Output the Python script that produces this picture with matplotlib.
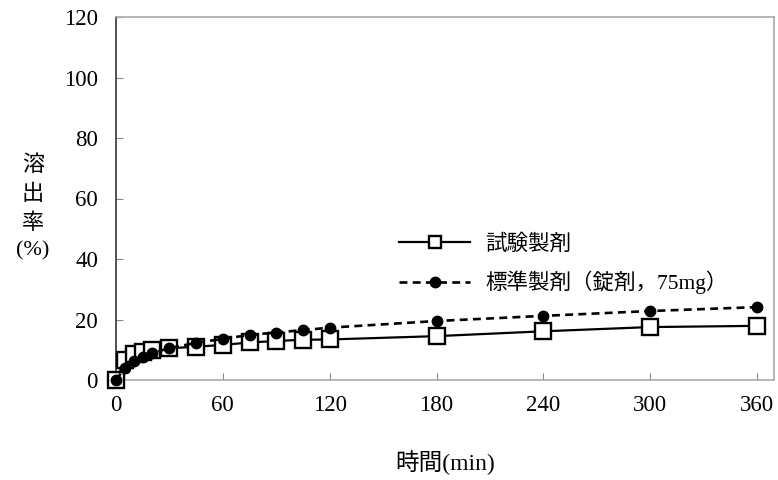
import matplotlib
matplotlib.use("Agg")
import matplotlib.pyplot as plt

plt.rcParams['font.family'] = ['Liberation Serif', 'Noto Sans CJK JP', 'DejaVu Sans']

time_test = [0, 5, 10, 15, 20, 30, 45, 60, 75, 90, 105, 120, 180, 240, 300, 360]
test_vals = [0, 6.5, 8.5, 9.2, 9.8, 10.5, 11.0, 11.6, 12.4, 12.9, 13.3, 13.4, 14.5, 16.1, 17.5, 17.9]
time_ref = [0, 5, 10, 15, 20, 30, 45, 60, 75, 90, 105, 120, 180, 240, 300, 360]
ref_vals = [0, 4.0, 6.3, 7.6, 8.9, 10.5, 12.3, 13.6, 14.9, 15.7, 16.5, 17.3, 19.5, 21.2, 22.8, 24.1]
label_test = '試験製剤'
label_ref = '標準製剤（錠剤，75mg）'
xticks = [0, 60, 120, 180, 240, 300, 360]
yticks = [0, 20, 40, 60, 80, 100, 120]

fig = plt.figure(figsize=(7.78, 4.8), dpi=100)
ax = fig.add_axes([116/778, 1-380/480, (774-116)/778, (380-17)/480])

ax.plot(time_test, test_vals, color='black', lw=1.6, marker='s', markersize=12,
        markerfacecolor='white', markeredgecolor='black', markeredgewidth=1.7,
        clip_on=False, zorder=3, label=label_test)
ax.plot(time_ref, ref_vals, color='black', lw=1.9, linestyle=(0, (3, 2)), marker='o',
        markersize=7.5, markerfacecolor='black', markeredgecolor='black',
        clip_on=False, zorder=4, label=label_ref)

ax.set_xlim(0, 369.5)
ax.set_ylim(0, 120)
ax.set_xticks(xticks)
ax.set_yticks(yticks)
ax.tick_params(axis='both', direction='in', length=5, labelsize=16.5, color='#888888')
ax.tick_params(axis='y', pad=13)
ax.tick_params(axis='x', pad=11)

for s in ['top', 'right', 'bottom']:
    ax.spines[s].set_color('#aaaaaa')
    ax.spines[s].set_linewidth(1.2)
ax.spines['left'].set_color('#333333')
ax.spines['left'].set_linewidth(1.2)

leg = ax.legend(loc='upper left', bbox_to_anchor=(399/778, 1-234/480),
                bbox_transform=fig.transFigure, frameon=False, fontsize=15.5,
                handlelength=3.3, handletextpad=0.7, labelspacing=0.75,
                borderpad=0, borderaxespad=0)
leg.legend_handles[0].set_markersize(8.5)
leg.legend_handles[1].set_markersize(7.5)

fig.text(445/778, 1-463/480, '時間(min)', ha='center', va='center', fontsize=17)
fig.text(33/778, 1-208/480, '溶\n出\n率\n(%)', ha='center', va='center', fontsize=16,
         linespacing=1.55, multialignment='center')

fig.savefig('out.png', dpi=100)
